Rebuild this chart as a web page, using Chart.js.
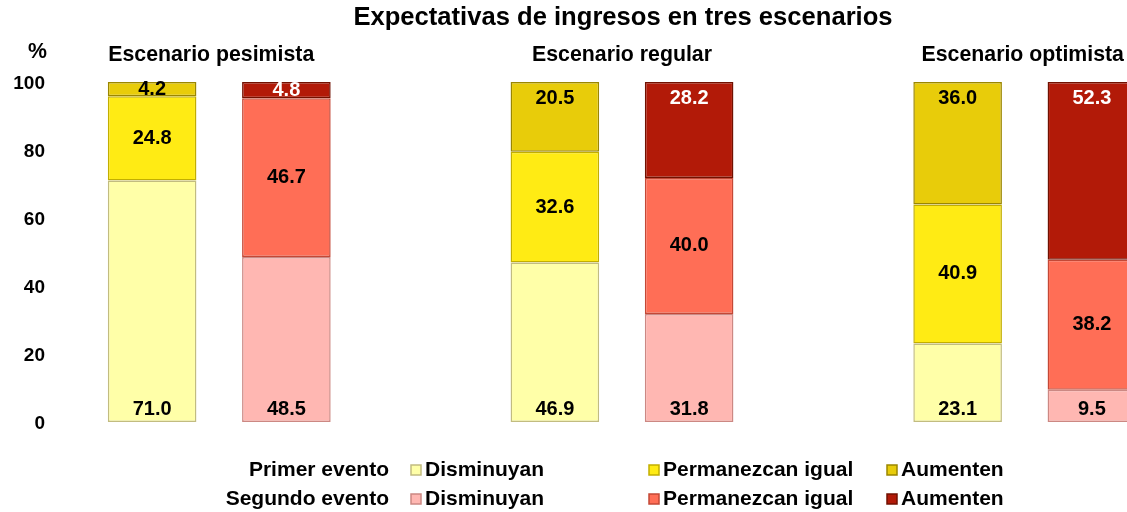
<!DOCTYPE html>
<html>
<head>
<meta charset="utf-8">
<script src="https://cdn.jsdelivr.net/npm/chart.js@4.4.1/dist/chart.umd.min.js"></script>
<style>
  html, body { margin: 0; padding: 0; background: #fff; overflow: hidden; }
  #wrap { position: relative; width: 1246px; height: 512px; }
</style>
</head>
<body>
<div id="wrap"><canvas id="chart"></canvas></div>
<script>
// --- data ---
const chartTitle = 'Expectativas de ingresos en tres escenarios';
const scenarios = ['Escenario pesimista', 'Escenario regular', 'Escenario optimista'];
const events = ['Primer evento', 'Segundo evento'];
const answers = ['Disminuyan', 'Permanezcan igual', 'Aumenten'];
const yTicks = [0, 20, 40, 60, 80, 100];

const primerDisminuyan = [71.0, 46.9, 23.1];
const primerPermanezcan = [24.8, 32.6, 40.9];
const primerAumenten = [4.2, 20.5, 36.0];
const segundoDisminuyan = [48.5, 31.8, 9.5];
const segundoPermanezcan = [46.7, 40.0, 38.2];
const segundoAumenten = [4.8, 28.2, 52.3];

const FONT = "'Liberation Sans', Arial, sans-serif";

// each scenario takes two bar slots plus an empty gap slot
const SLOTS = scenarios.length * 3 - 1;
const slotLabels = [];
for (let s = 0; s < SLOTS; s++) {
    slotLabels.push(s % 3 === 2 ? '' : scenarios[Math.floor(s / 3)] + ' - ' + events[s % 3]);
}

function toSlots(values, eventIdx) {
    const out = new Array(SLOTS).fill(null);
    values.forEach((v, i) => { out[i * 3 + eventIdx] = v; });
    return out;
}

function makeSet(label, values, eventIdx, fill, border, pos, textColor) {
    return {
        label: label,
        data: toSlots(values, eventIdx),
        backgroundColor: fill,
        borderColor: border,
        borderWidth: 1.5,
        borderSkipped: false,
        labelPos: pos,
        labelColor: textColor,
        eventIdx: eventIdx
    };
}

const datasets = [
    makeSet(answers[0], primerDisminuyan, 0, '#FFFFA8', '#C2BC80', 'base', '#000'),
    makeSet(answers[1], primerPermanezcan, 0, '#FFEB14', '#C2AE00', 'center', '#000'),
    makeSet(answers[2], primerAumenten, 0, '#E8CC0A', '#9A8600', 'end', '#000'),
    makeSet(answers[0], segundoDisminuyan, 1, '#FFB7B2', '#CC8883', 'base', '#000'),
    makeSet(answers[1], segundoPermanezcan, 1, '#FF6E56', '#C44836', 'center', '#000'),
    makeSet(answers[2], segundoAumenten, 1, '#B21A08', '#711000', 'end', '#fff')
];

// small horizontal nudges of the scenario headers, as placed in the original
const headerShift = [-8, 0, -2];

// value labels inside the bar segments
const valueLabels = {
    id: 'valueLabels',
    afterDatasetsDraw(chart) {
        const ctx = chart.ctx;
        ctx.save();
        ctx.font = 'bold 20px ' + FONT;
        ctx.textAlign = 'center';
        ctx.textBaseline = 'middle';
        chart.data.datasets.forEach((ds, di) => {
            chart.getDatasetMeta(di).data.forEach((bar, i) => {
                const v = ds.data[i];
                if (v === null) return;
                const top = bar.y, base = bar.base;
                const mid = (top + base) / 2;
                let y = mid;
                if (ds.labelPos === 'base') y = Math.max(base - 13, mid);
                if (ds.labelPos === 'end') y = Math.min(top + 16, mid);
                ctx.fillStyle = ds.labelColor;
                ctx.fillText(v.toFixed(1), bar.x, y);
            });
        });
        ctx.restore();
    }
};

// title, scenario headers, % unit and the two-row legend
const extras = {
    id: 'extras',
    afterDraw(chart) {
        const ctx = chart.ctx;
        const x = chart.scales.x;
        ctx.save();
        ctx.fillStyle = '#000';
        ctx.textBaseline = 'middle';

        // title centred over the whole (uncropped) plot width
        ctx.font = 'bold 25.6px ' + FONT;
        ctx.textAlign = 'center';
        ctx.fillText(chartTitle, chart.width / 2, 18);

        ctx.font = 'bold 21.3px ' + FONT;
        scenarios.forEach((name, i) => {
            const cx = (x.getPixelForValue(i * 3) + x.getPixelForValue(i * 3 + 1)) / 2;
            ctx.fillText(name, cx + headerShift[i], 55);
        });
        ctx.textAlign = 'right';
        ctx.fillText('%', 47, 52);

        // legend
        const rowY = [470, 499];
        const colX = [411, 649, 887];
        ctx.font = 'bold 21px ' + FONT;
        events.forEach((ev, e) => {
            ctx.textAlign = 'right';
            ctx.fillStyle = '#000';
            ctx.fillText(ev, 389, rowY[e]);
            answers.forEach((ans, a) => {
                const ds = chart.data.datasets[e * 3 + a];
                ctx.fillStyle = ds.backgroundColor;
                ctx.fillRect(colX[a], rowY[e] - 5, 10, 10);
                ctx.strokeStyle = ds.borderColor;
                ctx.lineWidth = 1.5;
                ctx.strokeRect(colX[a], rowY[e] - 5, 10, 10);
                ctx.fillStyle = '#000';
                ctx.textAlign = 'left';
                ctx.fillText(ans, colX[a] + 14, rowY[e]);
            });
        });
        ctx.restore();
    }
};

new Chart(document.getElementById('chart'), {
    type: 'bar',
    data: { labels: slotLabels, datasets: datasets },
    options: {
        responsive: true,
        maintainAspectRatio: false,
        animation: false,
        layout: { padding: { left: 0, right: 87, top: 82, bottom: 90 } },
        plugins: {
            legend: { display: false },
            tooltip: { enabled: false },
            title: { display: false }
        },
        datasets: { bar: { categoryPercentage: 1, barPercentage: 0.66 } },
        scales: {
            x: {
                display: false,
                stacked: true
            },
            y: {
                stacked: true,
                min: 0,
                max: 100,
                afterBuildTicks: (axis) => { axis.ticks = yTicks.map(v => ({ value: v })); },
                afterFit: (axis) => { axis.width = 85; },
                grid: { display: false, drawTicks: false },
                border: { display: false },
                ticks: {
                    padding: 40,
                    labelOffset: 2,
                    color: '#000',
                    font: { family: FONT, size: 19, weight: 'bold' }
                }
            }
        }
    },
    plugins: [valueLabels, extras]
});
</script>
</body>
</html>
